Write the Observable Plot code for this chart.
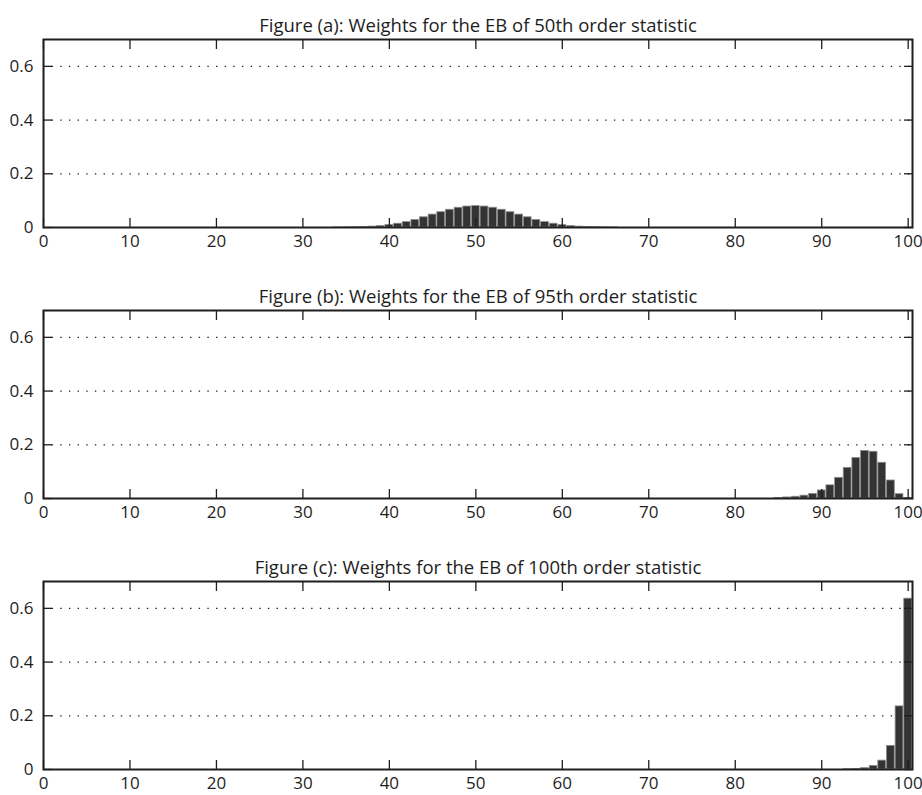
<!DOCTYPE html>
<html><head><meta charset="utf-8">
<script src="https://cdn.jsdelivr.net/npm/d3@7"></script>
<script src="https://cdn.jsdelivr.net/npm/@observablehq/plot@0.6"></script>
<style>html,body{margin:0;padding:0;background:#fff;overflow:hidden} svg{display:block}</style>
</head><body><div id="chart"></div>
<script>
// Order index (bar positions 1..100)
const order = d3.range(1, 101);
const xTicks = [0, 10, 20, 30, 40, 50, 60, 70, 80, 90, 100];
const yTicks = [0, 0.2, 0.4, 0.6];
const gridValues = [0.2, 0.4, 0.6];
const titles = [
  "Figure (a): Weights for the EB of 50th order statistic",
  "Figure (b): Weights for the EB of 95th order statistic",
  "Figure (c): Weights for the EB of 100th order statistic"
];

// Panel (a): orders 1..33 zero, 34..66, 67..100 zero
const weightsA = [
  ...Array(33).fill(0),
  0.0002, 0.0005, 0.001, 0.0018, 0.0033, 0.0055, 0.009, 0.014, 0.020, 0.028,
  0.038, 0.048, 0.057, 0.066, 0.0735, 0.078, 0.0796, 0.078, 0.0735, 0.066,
  0.057, 0.048, 0.038, 0.028, 0.020, 0.014, 0.009, 0.0055, 0.0033, 0.0018,
  0.001, 0.0005, 0.0002,
  ...Array(34).fill(0)
];
// Panel (b): orders 1..84 zero, 85..100
const weightsB = [
  ...Array(84).fill(0),
  0.002, 0.004, 0.0065, 0.0105, 0.017, 0.030, 0.049, 0.077, 0.114, 0.151,
  0.177, 0.174, 0.133, 0.067, 0.016, 0.002
];
// Panel (c): orders 1..92 zero, 93..100
const weightsC = [
  ...Array(92).fill(0),
  0.0008, 0.002, 0.005, 0.013, 0.033, 0.088, 0.235, 0.636
];

const ink = "#1e1e1e";
const tickFont = 17;

function panel(title, weights, height, marginBottom) {
  const data = order.map((k, i) => ({k, w: weights[i]}));
  return Plot.plot({
    width: 922, height, marginTop: 39, marginBottom, marginLeft: 43, marginRight: 10,
    style: {fontFamily: "'Open Sans', sans-serif", fontSize: "17px", color: ink, background: "white", overflow: "visible"},
    x: {domain: [0, 100.5], label: null},
    y: {domain: [0, 0.7], label: null},
    marks: [
      Plot.gridY(gridValues, {stroke: "#222", strokeOpacity: 1, strokeDasharray: "1.4,7.25", strokeWidth: 1.3}),
      Plot.rectY(data, {x1: d => d.k - 0.45, x2: d => d.k + 0.45, y1: 0, y2: "w", fill: "#333", stroke: "#8c8c8c", strokeWidth: 0.8}),
      Plot.axisX(xTicks, {anchor: "bottom", tickSize: -9, tickPadding: 16, tickFormat: d => String(d), color: ink, strokeWidth: 1.3, label: null, fontSize: tickFont}),
      Plot.axisX(xTicks, {anchor: "top", tickSize: -9, tickFormat: () => "", color: ink, strokeWidth: 1.3, label: null}),
      Plot.axisY(yTicks, {anchor: "left", tickSize: -9, tickPadding: 19, tickFormat: d => String(d), color: ink, strokeWidth: 1.3, label: null, fontSize: tickFont}),
      Plot.axisY(yTicks, {anchor: "right", tickSize: -9, tickFormat: () => "", color: ink, strokeWidth: 1.3, label: null}),
      Plot.frame({stroke: ink, strokeWidth: 2}),
      Plot.text([title], {frameAnchor: "top", dy: -8, lineAnchor: "bottom", fontSize: 18.5, fill: ink})
    ]
  });
}

const root = document.getElementById("chart");
root.append(panel(titles[0], weightsA, 271, 44));
root.append(panel(titles[1], weightsB, 271, 44));
root.append(panel(titles[2], weightsC, 253, 26));
</script>
</body></html>
